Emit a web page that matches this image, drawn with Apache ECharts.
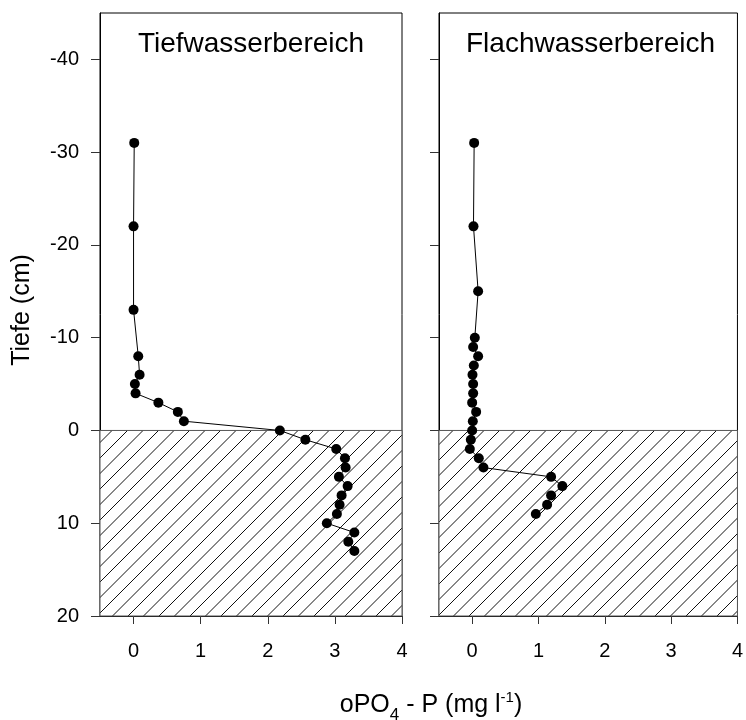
<!DOCTYPE html>
<html><head><meta charset="utf-8">
<script src="https://cdn.jsdelivr.net/npm/echarts@6/dist/echarts.min.js"></script>
<style>html,body{margin:0;padding:0;background:#fff}#c{width:746px;height:720px}</style>
</head><body><div id="c"></div>
<script>
// ---- data ----
const panelTitles = ['Tiefwasserbereich', 'Flachwasserbereich'];
const depthDeep = [-31, -22, -13, -8, -6, -5, -4, -3, -2, -1, 0, 1, 2, 3, 4, 5, 6, 7, 8, 9, 10, 11, 12, 13];
const poDeep    = [0.01, 0.0, 0.0, 0.07, 0.09, 0.02, 0.03, 0.37, 0.66, 0.75, 2.18, 2.56, 3.02, 3.15, 3.16, 3.06, 3.19, 3.1, 3.07, 3.03, 2.88, 3.29, 3.2, 3.29];
const depthShallow = [-31, -22, -15, -10, -9, -8, -7, -6, -5, -4, -3, -2, -1, 0, 1, 2, 3, 4, 5, 6, 7, 8, 9];
const poShallow    = [0.03, 0.02, 0.09, 0.04, 0.015, 0.09, 0.025, 0.005, 0.015, 0.015, 0.0, 0.06, 0.01, 0.0, -0.02, -0.035, 0.1, 0.17, 1.19, 1.36, 1.19, 1.13, 0.96];
const xTicks = [0, 1, 2, 3, 4];
const yTicks = [-40, -30, -20, -10, 0, 10, 20];
const xRange = [-0.5, 4];
const yRange = [-45, 20];
const sediment = [0, 20];

const FONT = '"Liberation Sans", Arial, Helvetica, sans-serif';

// hatch pattern
function makeHatch() {
  const s = 31, c = document.createElement('canvas');
  c.width = s; c.height = s;
  const g = c.getContext('2d');
  g.fillStyle = '#fff'; g.fillRect(0, 0, s, s);
  g.strokeStyle = '#111'; g.lineWidth = 1;
  [-15.5, 0, 15.5, 31, 46.5, 62].forEach(k => {
    g.beginPath(); g.moveTo(-10, k + 10); g.lineTo(k + 10, -10); g.stroke();
  });
  return c;
}
const hatch = { image: makeHatch(), repeat: 'repeat' };

const grids = [
  { left: 100, top: 13, width: 302, bottom: 104 },
  { left: 439, top: 13, width: 302, bottom: 104 }
];
const sets = [[poDeep, depthDeep], [poShallow, depthShallow]];

const xAxes = [0, 1].map(i => ({
  type: 'value', gridIndex: i, min: xRange[0], max: xRange[1],
  axisLine: { show: true, onZero: false, lineStyle: { color: '#000', width: 1 } },
  axisTick: { show: true, inside: false, length: 8, customValues: xTicks, lineStyle: { color: '#333', width: 1 } },
  axisLabel: { show: true, customValues: xTicks, fontSize: 20, color: '#000', margin: 25, fontFamily: FONT },
  splitLine: { show: false }
}));
const yAxes = [0, 1].map(i => ({
  type: 'value', gridIndex: i, inverse: true, min: yRange[0], max: yRange[1],
  axisLine: { show: true, onZero: false, lineStyle: { color: '#000', width: 1 } },
  axisTick: { show: true, inside: false, length: 9, customValues: yTicks, lineStyle: { color: '#333', width: 1 } },
  axisLabel: { show: i === 0, customValues: yTicks, fontSize: 20, color: '#000', margin: 21, fontFamily: FONT },
  splitLine: { show: false }
}));

const series = [0, 1].map(i => ({
  type: 'line', xAxisIndex: i, yAxisIndex: i,
  data: sets[i][0].map((x, k) => [x, sets[i][1][k]]),
  symbol: 'circle', symbolSize: 10, showSymbol: true,
  itemStyle: { color: '#000' },
  lineStyle: { color: '#000', width: 1 },
  z: 3,
  markArea: {
    silent: true,
    itemStyle: { color: hatch, borderColor: '#555', borderWidth: 1 },
    label: { show: false },
    data: [[{ coord: [xRange[0], sediment[0]] }, { coord: [xRange[1], sediment[1]] }]]
  }
}));

const chart = echarts.init(document.getElementById('c'), null, { renderer: 'canvas' });
chart.setOption({
  animation: false,
  backgroundColor: '#fff',
  grid: grids.map(g => Object.assign({ show: true, borderColor: '#000', borderWidth: 1, backgroundColor: 'transparent', containLabel: false }, g)),
  xAxis: xAxes,
  yAxis: yAxes,
  series: series,
  graphic: [
    { type: 'text', x: 251, y: 44, style: { text: panelTitles[0], font: '28px ' + FONT, fill: '#000', textAlign: 'center', textVerticalAlign: 'middle' } },
    { type: 'text', x: 590.5, y: 44, style: { text: panelTitles[1], font: '28px ' + FONT, fill: '#000', textAlign: 'center', textVerticalAlign: 'middle' } },
    { type: 'text', x: 22, y: 310, rotation: Math.PI / 2, style: { text: 'Tiefe (cm)', font: '25px ' + FONT, fill: '#000', textAlign: 'center', textVerticalAlign: 'middle' } },
    { type: 'text', x: 431, y: 705, style: {
        text: 'oPO{sub|4} - P (mg l{sup|-1})', fontSize: 25, fontFamily: FONT, fill: '#000', textAlign: 'center', textVerticalAlign: 'middle',
        rich: {
          sub: { fontSize: 17, fontFamily: FONT, padding: [20, 0, 0, 0] },
          sup: { fontSize: 15, fontFamily: FONT, padding: [0, 0, 14, 0] }
        }
      } }
  ]
});
</script>
</body></html>
